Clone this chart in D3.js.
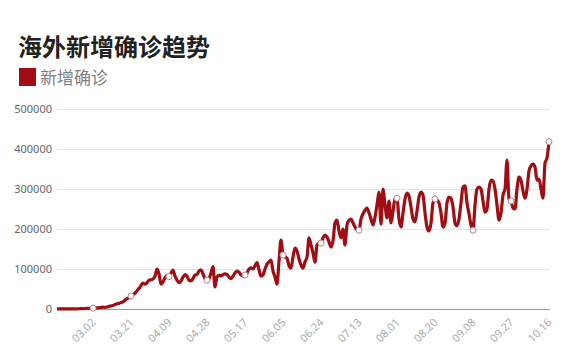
<!DOCTYPE html>
<html><head><meta charset="utf-8">
<script src="https://cdn.jsdelivr.net/npm/d3@7/dist/d3.min.js"></script>
<style>
html,body{margin:0;padding:0;background:#fff;}
svg{display:block;font-family:"Noto Sans CJK SC","Noto Sans",sans-serif;}
</style></head>
<body><svg id="c" width="588" height="358"></svg>
<script>
const title = "海外新增确诊趋势";
const seriesName = "新增确诊";
const startDate = "2020-02-13";
const tickLabels = ["03.02","03.21","04.09","04.28","05.17","06.05","06.24","07.13","08.01","08.20","09.08","09.27","10.16"];
const yTicks = [0,100000,200000,300000,400000,500000];
// daily new cases (thousands), from 2020-02-13 to 2020-10-16
const dailyK = [
0.1,0.1,0.2,0.1,0.1,0.2,0.3,0.2,0.3,0.4,0.5,0.6,0.8,1.0,1.2,1.5,1.8,2.0,
2,
2.5,3,3.2,4,4.5,4.3,5,6.5,7.5,9,11,13,14,16,18,22,26,28,
32.5,
36,40,45,52,58,65,62,66,72,73,75,82,100,88,62,68,78,84,
81,
90,97,82,72,66,70,80,86,82,72,70,76,85,86,95,98,88,76,
72,
76,90,106,55,80,84,83,86,88,86,80,76,82,90,95,92,85,84,
85,
90,100,103,100,108,116,98,82,85,100,112,118,122,95,80,62,120,172,
135,
130,127,108,102,130,152,145,125,110,102,118,130,178,160,140,117,160,165,
165,
178,185,180,168,155,170,215,222,195,178,200,160,210,222,225,215,205,198,
197,
225,238,247,252,240,225,210,230,260,292,212,300,260,228,270,215,245,275,
277,
225,205,240,275,290,282,255,225,218,245,280,292,285,240,205,195,215,265,
275,
272,265,240,205,215,265,280,277,255,215,208,225,265,305,308,265,238,210,
197,
260,300,305,300,270,242,250,300,322,320,300,260,222,240,285,300,372,275,
270,
252,250,300,330,322,295,277,300,345,358,362,355,322,325,300,277,365,378,
418
];

const parse = d3.timeParse("%Y-%m-%d");
const t0 = parse(startDate);
const data = dailyK.map((v,i)=>({date:d3.timeDay.offset(t0,i), value:v*1000, i}));

const svg = d3.select("#c");
const padL = 57, padR = 549, padT = 109, padB = 309;

const x = d3.scaleTime().domain([data[0].date, data[data.length-1].date]).range([padL, padR]);
const y = d3.scaleLinear().domain([0,500000]).range([padB, padT]);

// title
svg.append("text").attr("x",18).attr("y",56).attr("font-size",24).attr("font-weight","bold")
  .attr("fill","#222").text(title);
// legend
svg.append("rect").attr("x",19).attr("y",68).attr("width",17).attr("height",18).attr("fill","#a00d12");
svg.append("text").attr("x",40).attr("y",84).attr("font-size",17).attr("fill","#808080").text(seriesName);

// grid + y labels
const yAxis = d3.axisLeft(y).tickValues(yTicks).tickSize(-(padR+1-padL)).tickPadding(5).tickFormat(d3.format("d"));
const gy = svg.append("g").attr("transform",`translate(${padL},0)`).call(yAxis);
gy.select(".domain").remove();
gy.selectAll(".tick line").attr("stroke","#e6e6e6");
gy.selectAll(".tick text").attr("fill","#666").attr("font-size",11).attr("font-family","'Noto Sans','Open Sans',sans-serif");

// x axis
const tickDates = tickLabels.map(s=>parse("2020-"+s.replace(".","-")));
const xAxis = d3.axisBottom(x).tickValues(tickDates).tickSize(0).tickFormat(d3.timeFormat("%m.%d"));
const gx = svg.append("g").attr("transform",`translate(0,${padB})`).call(xAxis);
gx.select(".domain").attr("stroke","#999").attr("d",`M${padL},0.5H${padR+1}`);
gx.selectAll(".tick text").attr("fill","#aaa").attr("font-size",11)
  .attr("font-family","'Noto Sans','Open Sans',sans-serif")
  .attr("text-anchor","end").attr("dy",null).attr("y",0)
  .attr("transform","translate(3,14) rotate(-45)");

// line
const line = d3.line().x(d=>x(d.date)).y(d=>y(d.value)).curve(d3.curveMonotoneX);
svg.append("path").datum(data).attr("fill","none").attr("stroke","#a00d12")
  .attr("stroke-width",3.2).attr("stroke-linejoin","round").attr("d",line);

// markers at tick dates
const tickSet = new Set(tickDates.map(d=>+d));
svg.selectAll("circle.m").data(data.filter(d=>tickSet.has(+d.date))).join("circle")
  .attr("class","m").attr("cx",d=>x(d.date)).attr("cy",d=>y(d.value)).attr("r",3)
  .attr("fill","#fff").attr("stroke","#b9868a").attr("stroke-width",1);
</script></body></html>
